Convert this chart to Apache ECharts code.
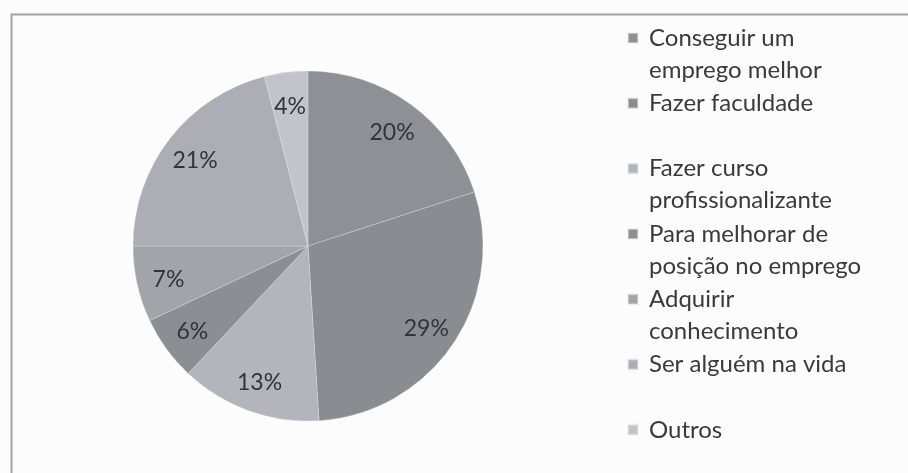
<!DOCTYPE html>
<html>
<head>
<meta charset="utf-8">
<script src="https://cdn.jsdelivr.net/npm/echarts@6/dist/echarts.min.js"></script>
<style>
  html, body { margin: 0; padding: 0; background: #fcfcfc; }
  #chart { width: 908px; height: 473px; }
</style>
</head>
<body>
<div id="chart"></div>
<script>
  // dados (porcentagens)
  var categorias = [
    'Conseguir um\nemprego melhor',
    'Fazer faculdade',
    'Fazer curso\nprofissionalizante',
    'Para melhorar de\nposição no emprego',
    'Adquirir\nconhecimento',
    'Ser alguém na vida',
    'Outros'
  ];
  var valores = [20, 29, 13, 6, 7, 21, 4];
  var cores = ['#8f9095', '#8b8c91', '#b3b5bc', '#8d8e93', '#a3a4a9', '#adaeb5', '#c3c4cb'];

  var dados = categorias.map(function (c, i) {
    return { name: c, value: valores[i], itemStyle: { color: cores[i] } };
  });

  // quadrado no topo da caixa do ícone, para alinhar com a 1a linha do texto
  var iconeTopo = 'path://M0,0H10V10H0Z M0,42L0,42';

  var chart = echarts.init(document.getElementById('chart'));
  chart.setOption({
    animation: false,
    backgroundColor: '#fcfcfc',
    graphic: [{
      type: 'rect',
      left: 9, top: 12,
      shape: { width: 940, height: 500 },
      style: { fill: 'none', stroke: '#a2a2a2', lineWidth: 2 },
      silent: true
    }],
    legend: {
      type: 'plain',
      orient: 'vertical',
      left: 622,
      top: 17,
      height: 600,
      icon: iconeTopo,
      itemWidth: 10,
      itemHeight: 42,
      itemGap: 1.3,
      selectedMode: false,
      data: categorias,
      formatter: function (name) {
        return name.indexOf('\n') < 0 ? name + '\n ' : name;
      },
      textStyle: {
        fontFamily: 'Lato',
        fontSize: 24,
        lineHeight: 32,
        color: '#3a3a3c',
        padding: [0, 0, 0, 6]
      }
    },
    series: [{
      name: 'motivos',
      type: 'pie',
      center: [308, 246],
      radius: [0, 175],
      startAngle: 90,
      clockwise: true,
      data: dados,
      label: { show: false },
      labelLine: { show: false },
      itemStyle: { borderColor: 'rgba(235,235,235,0.5)', borderWidth: 0.6 },
      emphasis: { disabled: true },
      silent: true
    }, {
      // anel transparente só para posicionar os rótulos a ~0.8 do raio
      name: 'rotulos',
      type: 'pie',
      center: [308, 248],
      radius: [105, 175],
      startAngle: 90,
      clockwise: true,
      data: dados.map(function (d) { return { name: d.name, value: d.value }; }),
      itemStyle: { color: 'transparent' },
      label: {
        show: true,
        position: 'inside',
        formatter: '{c}%',
        fontFamily: 'Lato',
        fontSize: 23,
        color: '#333338'
      },
      labelLine: { show: false },
      emphasis: { disabled: true },
      silent: true
    }]
  });
</script>
</body>
</html>
